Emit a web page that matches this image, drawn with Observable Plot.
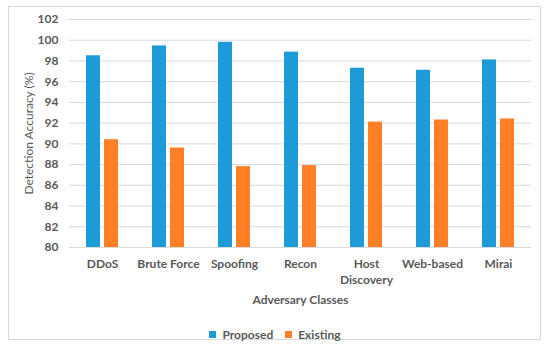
<!DOCTYPE html>
<html>
<head>
<meta charset="utf-8">
<script src="https://cdn.jsdelivr.net/npm/d3@7"></script>
<script src="https://cdn.jsdelivr.net/npm/@observablehq/plot@0.6"></script>
<style>
  html, body { margin: 0; padding: 0; background: #fff; }
  #wrap { position: relative; width: 550px; height: 349px; overflow: hidden; font-family: Lato, "Open Sans", sans-serif; }
  #frame { position: absolute; left: 8px; top: 6px; width: 533px; height: 334px; border: 1px solid #d9d9d9; box-sizing: border-box; }
  #chart { position: absolute; left: 0; top: 0; }
  #legend { position: absolute; left: 0; width: 562px; top: 318px; display: flex; justify-content: center; }
  g[aria-label="y-axis label"] text { font-weight: normal; }
</style>
</head>
<body>
<div id="wrap">
  <div id="frame"></div>
  <div id="chart"></div>
  <div id="legend"></div>
</div>
<script>
const classes = ["DDoS", "Brute Force", "Spoofing", "Recon", "Host Discovery", "Web-based", "Mirai"];
const series = ["Proposed", "Existing"];
const proposed = [98.5, 99.45, 99.8, 98.85, 97.3, 97.1, 98.1];
const existing = [90.4, 89.6, 87.8, 87.9, 92.1, 92.3, 92.4];
const yTicks = [80, 82, 84, 86, 88, 90, 92, 94, 96, 98, 100, 102];
const colors = ["#1c9bd8", "#fe7f25"];

const rows = [];
classes.forEach((c, i) => {
  rows.push({cls: c, series: "Proposed", value: proposed[i]});
  rows.push({cls: c, series: "Existing", value: existing[i]});
});

const ink = "#595959";
const chart = Plot.plot({
  width: 550,
  height: 312,
  marginTop: 19,
  marginBottom: 65,
  marginLeft: 68,
  marginRight: 18,
  style: {fontFamily: "Lato, 'Open Sans', sans-serif", fontSize: "12px", fontWeight: "bold", color: ink, background: "transparent"},
  fx: {domain: classes, padding: 0, axis: null},
  x: {domain: series, paddingInner: 0.21, paddingOuter: 0.85, axis: null},
  y: {domain: [yTicks[0], yTicks[yTicks.length - 1]], axis: null},
  color: {domain: series, range: colors},
  marks: [
    Plot.gridY(yTicks, {stroke: "#d9d9d9", strokeOpacity: 1, strokeWidth: 1}),
    Plot.axisY(yTicks, {tickSize: 0, tickPadding: 11, label: "Detection Accuracy (%)", labelAnchor: "center", labelArrow: "none", labelOffset: 45, fontSize: 12}),
    Plot.barY(rows, {fx: "cls", x: "series", y1: yTicks[0], y2: "value", fill: "series"}),
    Plot.axisFx({anchor: "bottom", tickSize: 0, tickPadding: 9, lineHeight: 1.35, fontSize: 12,
      tickFormat: d => d === "Host Discovery" ? "Host\nDiscovery" : d,
      label: "Adversary Classes", labelAnchor: "center", labelArrow: "none", labelOffset: 56})
  ]
});
document.getElementById("chart").appendChild(chart);

const legend = Plot.legend({
  color: {domain: series, range: colors},
  swatchSize: 7,
  style: {fontFamily: "Lato, 'Open Sans', sans-serif", fontSize: "12px", fontWeight: "bold", color: ink}
});
document.getElementById("legend").appendChild(legend);
</script>
</body>
</html>
